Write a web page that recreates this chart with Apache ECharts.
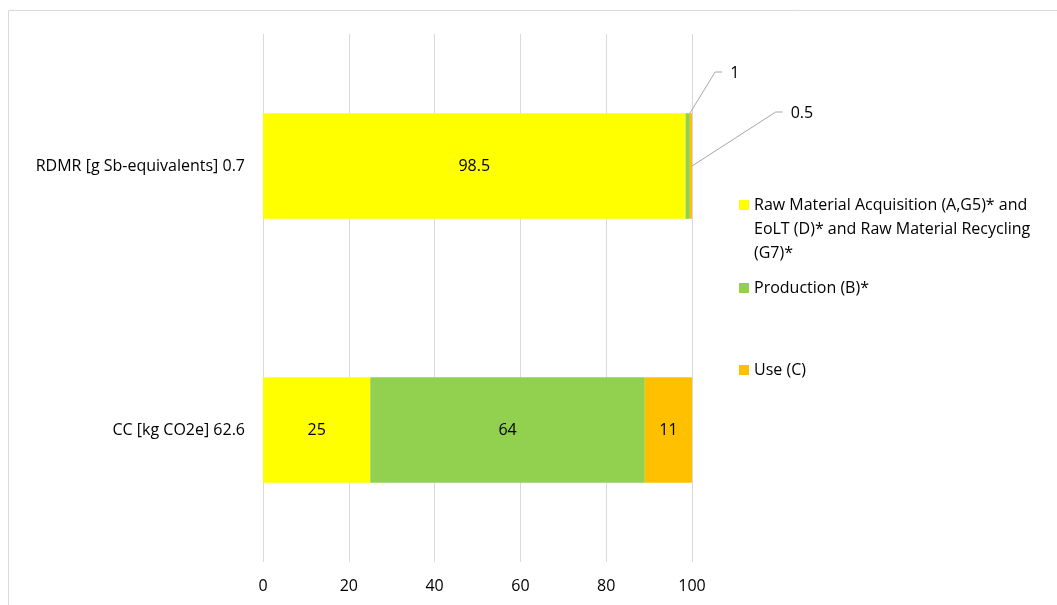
<!DOCTYPE html>
<html>
<head>
<meta charset="utf-8">
<script src="https://cdn.jsdelivr.net/npm/echarts@6/dist/echarts.min.js"></script>
<style>
  html, body { margin: 0; padding: 0; background: #fff; }
  #chart { width: 1057px; height: 605px; }
</style>
</head>
<body>
<div id="chart"></div>
<script>
// Indicator rows (top to bottom)
const categories = ['RDMR [g Sb-equivalents] 0.7', 'CC [kg CO2e] 62.6'];

// Life-cycle stage shares, in percent of each indicator
const seriesNames = [
  'Raw Material Acquisition (A,G5)* and EoLT (D)* and Raw Material Recycling (G7)*',
  'Production (B)*',
  'Use (C)'
];
const rawMaterialShare = [98.5, 25];
const productionShare = [1, 64];
const useShare = [0.5, 11];

const xTicks = [0, 20, 40, 60, 80, 100];

const colors = ['#FFFF00', '#92D050', '#FFC000'];
const FONT = 'Open Sans';
const FONT_SIZE = 16;
const TEXT = '#000000';
const BAR_RATIO = 0.4;

// Thin segments get their labels pulled outside; offsets are from the segment centre,
// and the leader starts at the segment's top-right corner or right-middle point
const callouts = [
  { series: 1, index: 0, dx: 47, dy: -93, anchor: 'top' },
  { series: 2, index: 0, dx: 111, dy: -53, anchor: 'middle' }
];

function findCallout(si, di) {
  for (let i = 0; i < callouts.length; i++) {
    if (callouts[i].series === si && callouts[i].index === di) return callouts[i];
  }
  return null;
}

const shares = [rawMaterialShare, productionShare, useShare];

const series = shares.map(function (values, si) {
  return {
    name: seriesNames[si],
    type: 'bar',
    stack: 'total',
    barWidth: (BAR_RATIO * 100) + '%',
    itemStyle: { color: colors[si] },
    label: {
      show: true,
      position: 'inside',
      color: TEXT,
      fontFamily: FONT,
      fontSize: FONT_SIZE
    },
    labelLayout: function (params) {
      const c = findCallout(params.seriesIndex, params.dataIndex);
      return c ? { dx: c.dx, dy: c.dy } : {};
    },
    data: values.slice()
  };
});

const chart = echarts.init(document.getElementById('chart'), null, { renderer: 'canvas' });

function legendFor(name, top, formatter) {
  return {
    orient: 'vertical',
    left: 739,
    top: top,
    padding: 0,
    itemWidth: 10,
    itemHeight: 10,
    icon: 'rect',
    selectedMode: false,
    data: [name],
    formatter: formatter,
    textStyle: { fontFamily: FONT, fontSize: FONT_SIZE, color: TEXT, lineHeight: 24 }
  };
}

const frame = {
  type: 'rect',
  shape: { x: 8.5, y: 10.5, width: 1200, height: 800 },
  style: { fill: 'none', stroke: '#d9d9d9', lineWidth: 1 },
  silent: true,
  z: -1
};

chart.setOption({
  animation: false,
  color: colors,
  graphic: [frame],
  grid: { left: 263, right: 365, top: 34, bottom: 43, containLabel: false },
  legend: [
    // blank lines above balance the wrapped lines below, so the marker sits by the first line
    legendFor(seriesNames[0], 145, function (n) {
      return '\n\n' + n.replace(' EoLT', '\nEoLT').replace(' (G7)', '\n(G7)');
    }),
    legendFor(seriesNames[1], 276),
    legendFor(seriesNames[2], 358)
  ],
  xAxis: {
    type: 'value',
    min: xTicks[0],
    max: xTicks[xTicks.length - 1],
    interval: xTicks[1] - xTicks[0],
    axisLine: { show: false },
    axisTick: { show: false },
    splitLine: { lineStyle: { color: '#d9d9d9', width: 1 } },
    axisLabel: { color: TEXT, fontFamily: FONT, fontSize: FONT_SIZE, margin: 16 }
  },
  yAxis: {
    type: 'category',
    inverse: true,
    data: categories,
    axisLine: { show: false },
    axisTick: { show: false },
    axisLabel: { color: TEXT, fontFamily: FONT, fontSize: FONT_SIZE, margin: 18 }
  },
  series: series
});

// Leader lines for the pulled-out labels, placed from the data through the axes
const measureCtx = document.createElement('canvas').getContext('2d');
measureCtx.font = FONT_SIZE + 'px "' + FONT + '"';

function segmentStart(si, di) {
  let s = 0;
  for (let k = 0; k < si; k++) s += shares[k][di];
  return s;
}

const leaders = callouts.map(function (c) {
  const start = segmentStart(c.series, c.index);
  const end = start + shares[c.series][c.index];
  const p0 = chart.convertToPixel({ gridIndex: 0 }, [start, c.index]);
  const p1 = chart.convertToPixel({ gridIndex: 0 }, [end, c.index]);
  const cy0 = chart.convertToPixel({ yAxisIndex: 0 }, 0);
  const cy1 = chart.convertToPixel({ yAxisIndex: 0 }, 1);
  const barH = Math.abs(cy1 - cy0) * BAR_RATIO;
  const cx = (p0[0] + p1[0]) / 2;
  const cy = p1[1];
  const text = String(shares[c.series][c.index]);
  const tw = measureCtx.measureText(text).width;
  const labelLeft = cx + c.dx - tw / 2;
  const ly = cy + c.dy - 1;
  const anchor = c.anchor === 'top' ? [p1[0], cy - barH / 2] : [p1[0], cy];
  return {
    type: 'polyline',
    silent: true,
    z: 10,
    shape: { points: [anchor, [labelLeft - 15, ly], [labelLeft - 8, ly]] },
    style: { stroke: '#a6a6a6', lineWidth: 1, fill: 'none' }
  };
});

chart.setOption({ graphic: [frame].concat(leaders) }, { replaceMerge: ['graphic'] });
</script>
</body>
</html>
